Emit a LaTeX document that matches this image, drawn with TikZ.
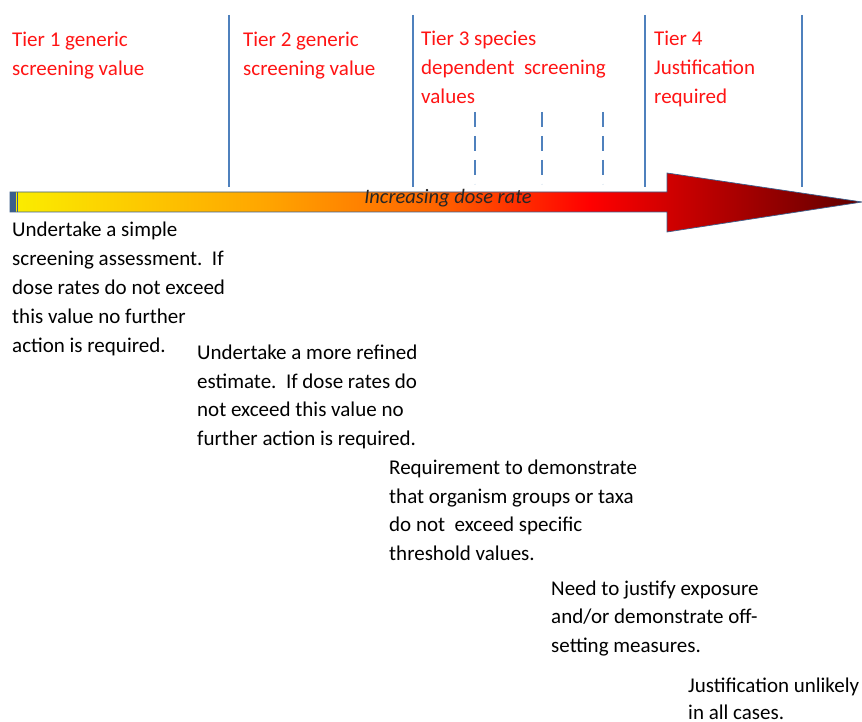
\documentclass[tikz,border=0pt]{standalone}
\usepackage{fontspec}
\setmainfont{Carlito}
\definecolor{tierblue}{RGB}{79,129,189}
\definecolor{tierred}{RGB}{255,20,20}
\definecolor{barblue}{RGB}{60,95,140}
\definecolor{sY}{RGB}{250,238,0}
\definecolor{sO}{RGB}{255,165,0}
\definecolor{sR1}{RGB}{255,100,0}
\definecolor{sR}{RGB}{255,0,0}
\definecolor{sD}{RGB}{95,0,0}
% the path's box maps onto 25bp..75bp of the shading
\pgfdeclarehorizontalshading{doserate}{100bp}{color(0bp)=(sY); color(25bp)=(sY); color(40bp)=(sO); color(50bp)=(sR1); color(59bp)=(sR); color(75bp)=(sD); color(100bp)=(sD)}
\tikzset{
  txt/.style={anchor=base west, inner sep=0pt, align=left, font=\fontsize{21}{28.5}\selectfont},
  redtxt/.style={txt, text=tierred, font=\fontsize{21}{29}\selectfont},
  tierline/.style={draw=tierblue, line width=2.6pt},
  dashline/.style={draw=tierblue, line width=2.6pt, dash pattern=on 15pt off 9pt},
}
\begin{document}
\begin{tikzpicture}[x=1pt,y=-1pt]
\useasboundingbox (0,0) rectangle (862,722);
\fill[white] (0,0) rectangle (862,722);
% tier separators
\coordinate (l1t) at (229,15); \coordinate (l1b) at (229,187);
\coordinate (l2t) at (413,15); \coordinate (l2b) at (413,187);
\coordinate (l3t) at (645,15); \coordinate (l3b) at (645,187);
\coordinate (l4t) at (802,15); \coordinate (l4b) at (802,187);
\draw[tierline] (l1t) -- (l1b);
\draw[tierline] (l2t) -- (l2b);
\draw[tierline] (l3t) -- (l3b);
\draw[tierline] (l4t) -- (l4b);
\coordinate (d1t) at (475,112); \coordinate (d1b) at (475,184);
\coordinate (d2t) at (542,112); \coordinate (d2b) at (542,184);
\coordinate (d3t) at (603,112); \coordinate (d3b) at (603,184);
\draw[dashline] (d1t) -- (d1b);
\draw[dashline] (d2t) -- (d2b);
\draw[dashline] (d3t) -- (d3b);
% arrow
\path[shading=doserate, draw=barblue, line width=0.7pt]
  (10,192) -- (667,192) -- (667,173) -- (862,202) -- (667,232) -- (667,212) -- (10,212) -- cycle;
\fill[barblue] (10,192) rectangle (15.5,212);
\draw[barblue, line width=0.8pt] (17.5,192) -- (17.5,212);
\node[anchor=base, inner sep=0pt, font=\fontsize{20.5}{22}\selectfont\itshape, text=black!85] (dose) at (448,204) {Increasing dose rate};
% tier labels (anchor = baseline of last line)
\node[redtxt] (t1) at (12,75.5) {Tier 1 generic\\screening value};
\node[redtxt] (t2) at (243,75.5) {Tier 2 generic\\screening value};
\node[redtxt] (t3) at (421,104) {Tier 3 species\\dependent\ \ screening\\values};
\node[redtxt] (t4) at (654,104) {Tier 4\\Justification\\required};
% descriptions (anchor = baseline of last line)
\node[txt, font=\fontsize{21}{29}\selectfont] (b1) at (12,352) {Undertake a simple\\screening assessment.\ \ If\\dose rates do not\ exceed\\this value no\ further\\action is required.};
\node[txt] (b2) at (197,445) {Undertake a more\ refined\\estimate.\ \ If dose rates do\\not exceed this value no\\further action is\ required.};
\node[txt] (b3) at (389,560) {Requirement to demonstrate\\that organism groups or\ taxa\\do not\ \ exceed specific\\threshold values.};
\node[txt] (b4) at (551,652) {Need to justify exposure\\and/or demonstrate off-\\setting measures.};
\node[txt, font=\fontsize{21}{27.5}\selectfont] (b5) at (688,719.5) {Justification unlikely\\in all cases.};
\end{tikzpicture}
\end{document}
